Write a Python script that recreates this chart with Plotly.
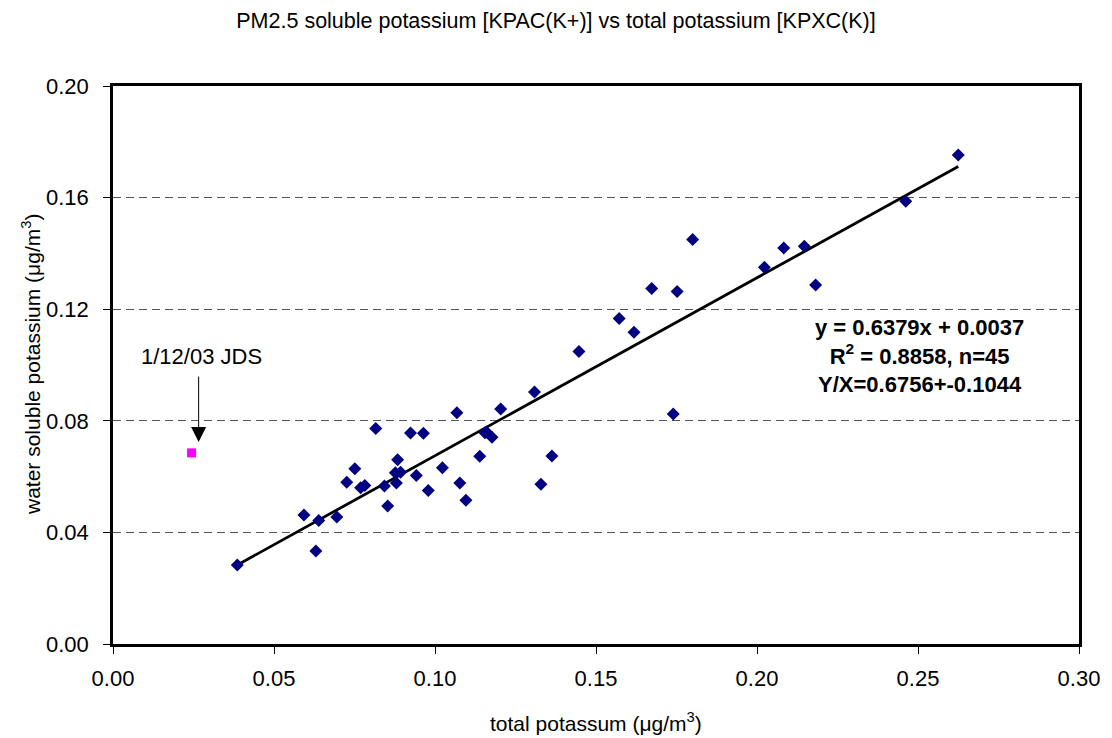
import plotly.graph_objects as go

total_k = [0.0386, 0.0593, 0.0639, 0.0630, 0.0695, 0.0726, 0.0751, 0.0769, 0.0782, 0.0816,
           0.0843, 0.0853, 0.0877, 0.0884, 0.0893, 0.0880, 0.0924, 0.0942, 0.0964, 0.0979,
           0.1023, 0.1068, 0.1077, 0.1096, 0.1139, 0.1155, 0.1177, 0.1204, 0.1309, 0.1329,
           0.1363, 0.1447, 0.1572, 0.1618, 0.1673, 0.1740, 0.1752, 0.1800, 0.2023, 0.2083,
           0.2147, 0.2182, 0.2462, 0.2625, 0.1160]
soluble_k = [0.0283, 0.0462, 0.0443, 0.0333, 0.0455, 0.0580, 0.0628, 0.0560, 0.0568, 0.0772,
             0.0566, 0.0495, 0.0614, 0.0660, 0.0616, 0.0577, 0.0756, 0.0604, 0.0755, 0.0550,
             0.0632, 0.0829, 0.0577, 0.0515, 0.0673, 0.0757, 0.0741, 0.0842, 0.0903, 0.0573,
             0.0674, 0.1048, 0.1167, 0.1117, 0.1274, 0.0824, 0.1263, 0.1450, 0.1350, 0.1419,
             0.1426, 0.1287, 0.1587, 0.1753, 0.0760]
outlier_x = [0.0244]
outlier_y = [0.0685]
slope, intercept = 0.6379, 0.0037
fit_x = [min(total_k), max(total_k)]
fit_y = [slope * v + intercept for v in fit_x]

x_ticks = [0.00, 0.05, 0.10, 0.15, 0.20, 0.25, 0.30]
y_ticks = [0.00, 0.04, 0.08, 0.12, 0.16, 0.20]

FONT = "Liberation Sans, Arial, sans-serif"

fig = go.Figure()
fig.add_trace(go.Scatter(x=fit_x, y=fit_y, mode="lines",
                         line=dict(color="black", width=2.8), showlegend=False))
fig.add_trace(go.Scatter(x=total_k, y=soluble_k, mode="markers",
                         marker=dict(symbol="diamond", size=10, color="#000080",
                                     line=dict(width=0)), showlegend=False))
fig.add_trace(go.Scatter(x=outlier_x, y=outlier_y, mode="markers",
                         marker=dict(symbol="square", size=9, color="#FF00FF",
                                     line=dict(width=0)), showlegend=False))

# arrow pointing at the outlier
fig.add_annotation(x=0.0266, y=0.0724, ax=0.0266, ay=0.0964,
                   xref="x", yref="y", axref="x", ayref="y",
                   text="", showarrow=True, arrowhead=2, arrowsize=3,
                   arrowwidth=1, arrowcolor="black", standoff=0)
fig.add_annotation(x=0.0275, y=0.1030, xref="x", yref="y", text="1/12/03 JDS",
                   showarrow=False, xanchor="center", yanchor="middle",
                   font=dict(family=FONT, size=22, color="black"))
fig.add_annotation(x=0.2505, y=0.1032, xref="x", yref="y", showarrow=False,
                   align="center", xanchor="center", yanchor="middle",
                   text="<b>y = 0.6379x + 0.0037<br>R<sup>2</sup> = 0.8858, n=45<br>Y/X=0.6756+-0.1044</b>",
                   font=dict(family=FONT, size=22, color="black"))

# axis titles
fig.add_annotation(x=0.5, y=0, xref="paper", yref="paper", yshift=-78,
                   xanchor="center", yanchor="middle", showarrow=False,
                   text="total potassum (μg/m<sup>3</sup>)",
                   font=dict(family=FONT, size=21, color="black"))
fig.add_annotation(x=0, y=0.5, xref="paper", yref="paper", xshift=-82,
                   xanchor="center", yanchor="middle", showarrow=False, textangle=-90,
                   text="water soluble potassium (μg/m<sup>3</sup>)",
                   font=dict(family=FONT, size=21, color="black"))

fig.update_layout(
    width=1112, height=738,
    margin=dict(l=113, r=28, t=86, b=94),
    paper_bgcolor="white", plot_bgcolor="white",
    font=dict(family=FONT, size=22, color="black"),
    title=dict(text="PM2.5 soluble potassium [KPAC(K+)] vs total potassium [KPXC(K)]",
               x=0.5, xanchor="center", y=1 - 20 / 738, yanchor="middle",
               font=dict(family=FONT, size=21.5, color="black")),
    xaxis=dict(range=[0, 0.30], tickvals=x_ticks, ticktext=[f"{v:.2f}" for v in x_ticks],
               showgrid=False, zeroline=False, showline=True, linecolor="black",
               linewidth=2.5, mirror=True, ticks="outside", ticklen=7, tickcolor="black",
               tickwidth=1, ticklabelstandoff=6, tickfont=dict(size=22)),
    yaxis=dict(range=[0, 0.20], tickvals=y_ticks, ticktext=[f"{v:.2f}" for v in y_ticks],
               showgrid=True, gridcolor="#555555", griddash="8px,5px", gridwidth=1,
               zeroline=False, showline=True, linecolor="black",
               linewidth=2.5, mirror=True, ticks="outside", ticklen=7, tickcolor="black",
               tickwidth=1, ticklabelstandoff=10, tickfont=dict(size=22)),
)

fig.write_html("out.html", config={"displayModeBar": False},
               post_script="document.body.style.margin='0';")
